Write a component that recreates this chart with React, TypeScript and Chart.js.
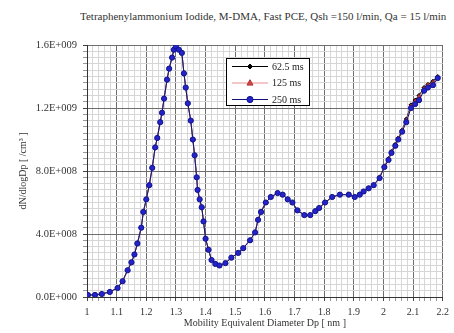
import React, { useEffect, useRef } from "react";
import { Chart, registerables } from "chart.js";

Chart.register(...registerables);

// Mobility equivalent diameter Dp [nm]
const diameters = [
  1.003, 1.027, 1.05, 1.077, 1.103, 1.12, 1.137, 1.15, 1.16, 1.17,
  1.183, 1.19, 1.2, 1.21, 1.22, 1.23, 1.237, 1.247, 1.253, 1.26,
  1.27, 1.277, 1.287, 1.293, 1.3, 1.31, 1.32, 1.327, 1.333, 1.34,
  1.35, 1.357, 1.363, 1.37, 1.373, 1.38, 1.387, 1.393, 1.4, 1.41,
  1.42, 1.433, 1.447, 1.467, 1.487, 1.51, 1.527, 1.55, 1.567, 1.577,
  1.587, 1.603, 1.62, 1.643, 1.66, 1.677, 1.693, 1.71, 1.733, 1.753,
  1.77, 1.783, 1.803, 1.827, 1.853, 1.883, 1.903, 1.92, 1.933, 1.95,
  1.967, 1.987, 2.003, 2.017, 2.027, 2.04, 2.05, 2.063, 2.077, 2.093,
  2.107, 2.12, 2.137, 2.15, 2.167, 2.183,
];

// dN/dlogDp in units of 1E+009 /cm3
const conc62_E9 = [
  0.013, 0.013, 0.02, 0.033, 0.058, 0.1, 0.17, 0.22, 0.27, 0.34,
  0.44, 0.54, 0.62, 0.71, 0.82, 0.95, 1.01, 1.11, 1.17, 1.26,
  1.38, 1.45, 1.52, 1.57, 1.6, 1.57, 1.55, 1.42, 1.33, 1.23,
  1.12, 1.0, 0.9, 0.76, 0.68, 0.62, 0.57, 0.48, 0.37, 0.3,
  0.235, 0.21, 0.2, 0.215, 0.25, 0.28, 0.31, 0.36, 0.41, 0.49,
  0.54, 0.6, 0.635, 0.66, 0.65, 0.62, 0.6, 0.55, 0.52, 0.52,
  0.545, 0.565, 0.6, 0.635, 0.65, 0.65, 0.635, 0.65, 0.67, 0.69,
  0.71, 0.76, 0.83, 0.88, 0.925, 0.97, 1.01, 1.06, 1.13, 1.22,
  1.25, 1.28, 1.33, 1.35, 1.37, 1.4,
];
const conc125_E9 = [
  0.013, 0.014, 0.019, 0.032, 0.057, 0.1, 0.17, 0.22, 0.27, 0.34,
  0.44, 0.54, 0.62, 0.71, 0.82, 0.95, 1.01, 1.11, 1.17, 1.26,
  1.38, 1.45, 1.52, 1.57, 1.59, 1.57, 1.55, 1.42, 1.33, 1.23,
  1.12, 1.0, 0.9, 0.76, 0.68, 0.62, 0.57, 0.48, 0.37, 0.3,
  0.235, 0.21, 0.2, 0.215, 0.25, 0.28, 0.31, 0.36, 0.41, 0.49,
  0.54, 0.6, 0.635, 0.66, 0.65, 0.62, 0.6, 0.55, 0.52, 0.52,
  0.545, 0.565, 0.6, 0.635, 0.65, 0.65, 0.635, 0.65, 0.67, 0.69,
  0.71, 0.76, 0.83, 0.875, 0.92, 0.965, 1.005, 1.055, 1.12, 1.21,
  1.24, 1.27, 1.32, 1.345, 1.36, 1.395,
];
const conc250_E9 = [
  0.013, 0.013, 0.019, 0.032, 0.057, 0.1, 0.17, 0.22, 0.27, 0.34,
  0.44, 0.54, 0.62, 0.71, 0.82, 0.95, 1.01, 1.11, 1.17, 1.26,
  1.38, 1.45, 1.52, 1.57, 1.59, 1.57, 1.55, 1.42, 1.33, 1.23,
  1.12, 1.0, 0.9, 0.76, 0.68, 0.62, 0.57, 0.48, 0.37, 0.3,
  0.235, 0.21, 0.2, 0.215, 0.25, 0.28, 0.31, 0.36, 0.41, 0.49,
  0.54, 0.6, 0.635, 0.66, 0.65, 0.62, 0.6, 0.55, 0.52, 0.52,
  0.545, 0.565, 0.6, 0.635, 0.65, 0.65, 0.635, 0.65, 0.67, 0.69,
  0.71, 0.755, 0.825, 0.87, 0.915, 0.96, 1.0, 1.05, 1.11, 1.2,
  1.225, 1.25, 1.31, 1.33, 1.345, 1.39,
];

const seriesLabels = ["62.5 ms", "125 ms", "250 ms"];
const chartTitle =
  "Tetraphenylammonium Iodide, M-DMA, Fast PCE, Qsh =150 l/min, Qa = 15 l/min";
const xAxisTitle = "Mobility Equivalent Diameter Dp [ nm ]";
const yAxisTitle = "dN/dlogDp [ /cm³ ]";

const FONT = "'Liberation Serif', 'Times New Roman', serif";

function fmtExp(v: number): string {
  if (Math.abs(v) < 1) return "0.0E+000";
  const e = Math.floor(Math.log10(v) + 1e-9);
  const m = v / Math.pow(10, e);
  return m.toFixed(1) + "E+" + String(e).padStart(3, "0");
}

const MAJOR = "#6e6e6e";
const MINOR = "#d6d6d6";

function drawMarker(ctx: CanvasRenderingContext2D, style: string, x: number, y: number, r: number) {
  ctx.beginPath();
  if (style === "circle") {
    ctx.arc(x, y, r, 0, Math.PI * 2);
  } else if (style === "triangle") {
    ctx.moveTo(x, y - r * 1.1);
    ctx.lineTo(x + r, y + r * 0.7);
    ctx.lineTo(x - r, y + r * 0.7);
    ctx.closePath();
  } else {
    ctx.moveTo(x, y - r);
    ctx.lineTo(x + r, y);
    ctx.lineTo(x, y + r);
    ctx.lineTo(x - r, y);
    ctx.closePath();
  }
  ctx.fill();
  ctx.stroke();
}

const boxLegend = {
  id: "boxLegend",
  afterDatasetsDraw(chart: any) {
    const ctx: CanvasRenderingContext2D = chart.ctx;
    const x0 = 226;
    const y0 = 58;
    const w = 83;
    const h = 47;
    ctx.save();
    ctx.fillStyle = "#ffffff";
    ctx.fillRect(x0, y0, w, h);
    ctx.strokeStyle = "#000000";
    ctx.lineWidth = 1;
    ctx.strokeRect(x0 + 0.5, y0 + 0.5, w, h);
    chart.data.datasets.forEach((ds: any, i: number) => {
      const y = y0 + 8.5 + i * 16.5;
      ctx.strokeStyle = ds.borderColor;
      ctx.lineWidth = 1;
      ctx.beginPath();
      ctx.moveTo(x0 + 6, y);
      ctx.lineTo(x0 + 42, y);
      ctx.stroke();
      ctx.fillStyle = ds.pointBackgroundColor;
      ctx.strokeStyle = ds.pointBorderColor;
      drawMarker(ctx, ds.pointStyle, x0 + 24, y, ds.pointRadius + 0.5);
      ctx.fillStyle = "#222";
      ctx.font = "10px " + FONT;
      ctx.textBaseline = "middle";
      ctx.textAlign = "left";
      ctx.fillText(ds.label, x0 + 46, y + 0.5);
    });
    ctx.restore();
  },
};

export default function App() {
  const ref = useRef<HTMLCanvasElement | null>(null);

  useEffect(() => {
    if (!ref.current) return;
    const mk = (arr: number[]) => diameters.map((d, i) => ({ x: d, y: arr[i] * 1e9 }));
    const chart = new Chart(ref.current, {
      type: "line",
      data: {
        datasets: [
          {
            label: seriesLabels[0],
            data: mk(conc62_E9),
            borderColor: "#000000",
            backgroundColor: "#000000",
            pointBackgroundColor: "#000000",
            pointBorderColor: "#000000",
            pointStyle: "rectRot",
            pointRadius: 2,
            borderWidth: 1,
            order: 2,
          },
          {
            label: seriesLabels[1],
            data: mk(conc125_E9),
            borderColor: "#e89090",
            backgroundColor: "#d04848",
            pointBackgroundColor: "#d04848",
            pointBorderColor: "#b03030",
            pointStyle: "triangle",
            pointRadius: 2.5,
            borderWidth: 1,
            order: 1,
          },
          {
            label: seriesLabels[2],
            data: mk(conc250_E9),
            borderColor: "#10107a",
            backgroundColor: "#2424cc",
            pointBackgroundColor: "#2424cc",
            pointBorderColor: "#14148a",
            pointStyle: "circle",
            pointRadius: 2.6,
            borderWidth: 1,
            order: 0,
          },
        ] as any,
      },
      options: {
        responsive: false,
        animation: false,
        devicePixelRatio: 1,
        layout: { padding: { top: 45, right: 8, left: 0, bottom: 0 } },
        plugins: {
          legend: { display: false },
          tooltip: { enabled: false },
          title: { display: false },
        },
        scales: {
          x: {
            type: "linear",
            min: 1,
            max: 2.2,
            afterFit: (s: any) => {
              s.height = 36;
            },
            ticks: {
              stepSize: 0.02,
              autoSkip: false,
              maxRotation: 0,
              minRotation: 0,
              padding: 5,
              color: "#333",
              font: { family: FONT, size: 10 },
              callback: (v: any) => {
                const k = Math.round(Number(v) * 100);
                return k % 10 === 0 ? String(k / 100) : "";
              },
            },
            grid: {
              color: (c: any) => (Math.round(c.tick.value * 100) % 10 === 0 ? MAJOR : MINOR),
              tickColor: (c: any) => (Math.round(c.tick.value * 100) % 10 === 0 ? "#444" : "#999"),
              lineWidth: 1,
              tickLength: 4,
            },
            border: { color: "#333", width: 1 },
            title: {
              display: true,
              text: xAxisTitle,
              color: "#333",
              font: { family: FONT, size: 10 },
              padding: { top: 0, bottom: 4 },
            },
          },
          y: {
            type: "linear",
            min: 0,
            max: 1.6e9,
            afterFit: (s: any) => {
              s.width = 87;
            },
            ticks: {
              stepSize: 0.04e9,
              autoSkip: false,
              padding: 6,
              color: "#333",
              font: { family: FONT, size: 10.5 },
              callback: (v: any) => {
                const k = Math.round(Number(v) / 0.04e9);
                return k % 10 === 0 ? fmtExp(k * 0.04e9) : "";
              },
            },
            grid: {
              color: (c: any) => (Math.round(c.tick.value / 0.04e9) % 10 === 0 ? MAJOR : MINOR),
              tickColor: (c: any) => (Math.round(c.tick.value / 0.04e9) % 10 === 0 ? "#444" : "#999"),
              lineWidth: 1,
              tickLength: 4,
            },
            border: { color: "#333", width: 1 },
            title: {
              display: true,
              text: yAxisTitle,
              color: "#333",
              font: { family: FONT, size: 10 },
              padding: { top: 17, bottom: 0 },
            },
          },
        },
      } as any,
      plugins: [boxLegend],
    });
    return () => chart.destroy();
  }, []);

  return (
    <div style={{ position: "absolute", left: 0, top: 0, width: 454, height: 333, background: "#fff" }}>
      <div
        style={{
          position: "absolute",
          left: 80,
          top: 10,
          width: 374,
          overflow: "hidden",
          whiteSpace: "nowrap",
          fontFamily: FONT,
          fontSize: 11,
          lineHeight: "12px",
          color: "#333",
        }}
      >
        {chartTitle}
      </div>
      <canvas ref={ref} width={454} height={333} style={{ position: "absolute", left: 0, top: 0 }} />
    </div>
  );
}
